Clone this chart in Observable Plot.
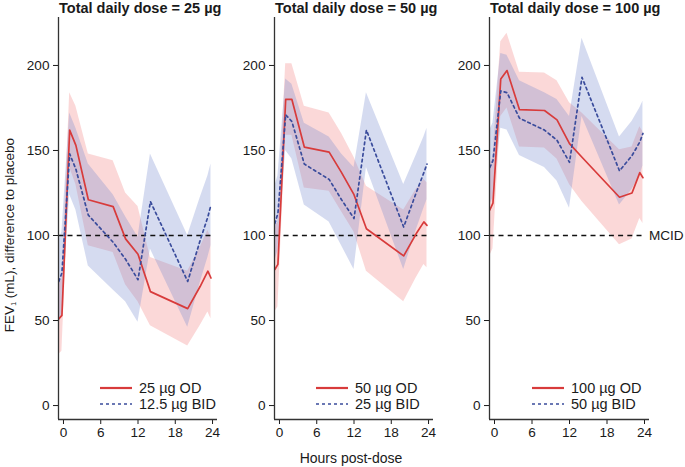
<!DOCTYPE html>
<html>
<head>
<meta charset="utf-8">
<script src="https://cdn.jsdelivr.net/npm/d3@7"></script>
<script src="https://cdn.jsdelivr.net/npm/@observablehq/plot@0.6"></script>
<style>
  body { margin: 0; background: #fff; }
  #wrap { position: relative; width: 685px; height: 467px; font-family: "Liberation Sans", Arial, sans-serif; color: #1a1a1a; }
  #wrap svg text { font-size: 13.6px; }
  .panel { position: absolute; top: 0; }
  .title { position: absolute; top: 0px; font-weight: bold; font-size: 14.5px; line-height: 16px; white-space: nowrap; }
  .legend { position: absolute; top: 380px; font-size: 14.5px; }
  .legend .row { display: flex; align-items: center; height: 16px; gap: 7px; white-space: nowrap; }
  .ylab { position: absolute; left: 9px; top: 235px; transform: translate(-50%, -50%) rotate(-90deg); font-size: 13.5px; white-space: nowrap; }
  .ylab sub { font-size: 7px; vertical-align: -2px; }
  .xlab { position: absolute; left: 351px; top: 450px; transform: translateX(-50%); font-size: 14px; white-space: nowrap; line-height: 16px; }
</style>
</head>
<body>
<div id="wrap"></div>
<script>
// ---- data ----
const times = [-0.75, -0.25, 1, 2, 4, 8, 10, 12, 14, 20, 22, 23.25, 23.75];
const panelTitles = ["Total daily dose = 25 µg", "Total daily dose = 50 µg", "Total daily dose = 100 µg"];
const odLabels = ["25 µg OD", "50 µg OD", "100 µg OD"];
const bidLabels = ["12.5 µg BID", "25 µg BID", "50 µg BID"];

const od25 = [51, 53, 162, 153, 121, 117, 98, 89, 67, 57, 70, 79, 75];
const od25ci = [21, 21, 22, 23, 27, 27, 27, 28, 20, 22, 23, 24, 24];
const bid25 = [73, 78, 148, 139, 112, 96, 86, 74, 120, 73, 97, 111, 118];
const bid25ci = [24, 24, 24, 24, 30, 28, 25, 25, 28, 27, 25, 24, 24];

const od50 = [80, 83, 180, 180, 152, 149, 137, 124, 104, 88, 101, 108, 106];
const od50ci = [25, 25, 21, 21, 24, 23, 23, 22, 25, 27, 26, 25, 25];
const bid50 = [107, 113, 171, 167, 142, 133, 121, 110, 162, 105, 125, 137, 142];
const bid50ci = [22, 22, 21, 22, 24, 25, 27, 30, 22, 25, 22, 21, 21];

const od100 = [115, 119, 192, 197, 174, 173.5, 168, 154, 146, 122.5, 125, 137, 134];
const od100ci = [27, 27, 22, 22, 22, 22, 23, 24, 26, 28, 27, 27, 27];
const bid100 = [140, 144, 185, 184, 169, 162, 156, 143, 193, 138, 147, 155, 160];
const bid100ci = [22, 22, 22, 22, 22, 22, 24, 27, 23, 20, 20, 20, 19];

const mcid = 100;
const xTicks = [0, 6, 12, 18, 24];
const yTicks = [0, 50, 100, 150, 200];
const xDomain = [-0.8, 24.8];
const yDomain = [-8.2, 228.2];

// ---- styling / layout ----
const RED = "#d83b3b", BLUE = "#3a4c9c";
const RED_FILL = "#f07070", BLUE_FILL = "#7488cc";
const layouts = [
  {left: 0, width: 225, ml: 58, mr: 8},
  {left: 225, width: 215, ml: 49, mr: 7},
  {left: 440, width: 245, ml: 49, mr: 36}
];
const series = [
  [od25, od25ci, bid25, bid25ci],
  [od50, od50ci, bid50, bid50ci],
  [od100, od100ci, bid100, bid100ci]
];

const wrap = document.getElementById("wrap");

series.forEach(([od, odci, bid, bidci], p) => {
  const L = layouts[p];
  const data = times.map((t, i) => ({
    t, od: od[i], odLo: od[i] - odci[i], odHi: od[i] + odci[i],
    bid: bid[i], bidLo: bid[i] - bidci[i], bidHi: bid[i] + bidci[i]
  }));
  const marks = [
    Plot.areaY(data, {x: "t", y1: "odLo", y2: "odHi", fill: RED_FILL, fillOpacity: 0.27}),
    Plot.areaY(data, {x: "t", y1: "bidLo", y2: "bidHi", fill: BLUE_FILL, fillOpacity: 0.3}),
    Plot.ruleY([{y: mcid, x1: times[0], x2: times[times.length - 1]}], {y: "y", x1: "x1", x2: "x2", stroke: "#111", strokeWidth: 1.5, strokeDasharray: "5,4.2"}),
    Plot.line(data, {x: "t", y: "od", stroke: RED, strokeWidth: 1.7}),
    Plot.line(data, {x: "t", y: "bid", stroke: BLUE, strokeWidth: 1.7, strokeDasharray: "2.6,3.2"}),
    Plot.ruleX([xDomain[0]], {stroke: "#333", strokeWidth: 1.3}),
    Plot.ruleY([yDomain[0]], {stroke: "#333", strokeWidth: 1.3})
  ];
  if (p === 2) {
    marks.push(Plot.text([{x: times[times.length - 1], y: mcid}], {x: "x", y: "y", text: () => "MCID", textAnchor: "start", dx: 6, fill: "#1a1a1a"}));
  }
  const svg = Plot.plot({
    width: L.width, height: 467,
    marginLeft: L.ml, marginRight: L.mr, marginTop: 17, marginBottom: 48,
    style: {fontFamily: "'Liberation Sans', Arial, sans-serif", fontSize: "13.6px", background: "transparent", color: "#1a1a1a", overflow: "visible"},
    x: {domain: xDomain, ticks: xTicks, tickSize: 5, tickPadding: 3, label: null},
    y: {domain: yDomain, ticks: yTicks, tickSize: 5, tickPadding: 4, label: null},
    marks
  });
  const div = document.createElement("div");
  div.className = "panel";
  div.style.left = L.left + "px";
  div.appendChild(svg);
  wrap.appendChild(div);

  const title = document.createElement("div");
  title.className = "title";
  title.style.left = (L.left + L.ml + 1) + "px";
  title.textContent = panelTitles[p];
  wrap.appendChild(title);

  const axisRight = L.left + L.width - L.mr;
  const leg = document.createElement("div");
  leg.className = "legend";
  leg.style.left = (axisRight - 117) + "px";
  leg.innerHTML =
    `<div class="row"><svg width="32" height="10"><line x1="0" x2="32" y1="5" y2="5" stroke="${RED}" stroke-width="2.2"/></svg><span>${odLabels[p]}</span></div>` +
    `<div class="row"><svg width="32" height="10"><line x1="0" x2="32" y1="5" y2="5" stroke="${BLUE}" stroke-width="1.5" stroke-dasharray="3,3"/></svg><span>${bidLabels[p]}</span></div>`;
  wrap.appendChild(leg);
});

const ylab = document.createElement("div");
ylab.className = "ylab";
ylab.innerHTML = "FEV<sub>1</sub> (mL), difference to placebo";
wrap.appendChild(ylab);

const xlab = document.createElement("div");
xlab.className = "xlab";
xlab.textContent = "Hours post-dose";
wrap.appendChild(xlab);
</script>
</body>
</html>
